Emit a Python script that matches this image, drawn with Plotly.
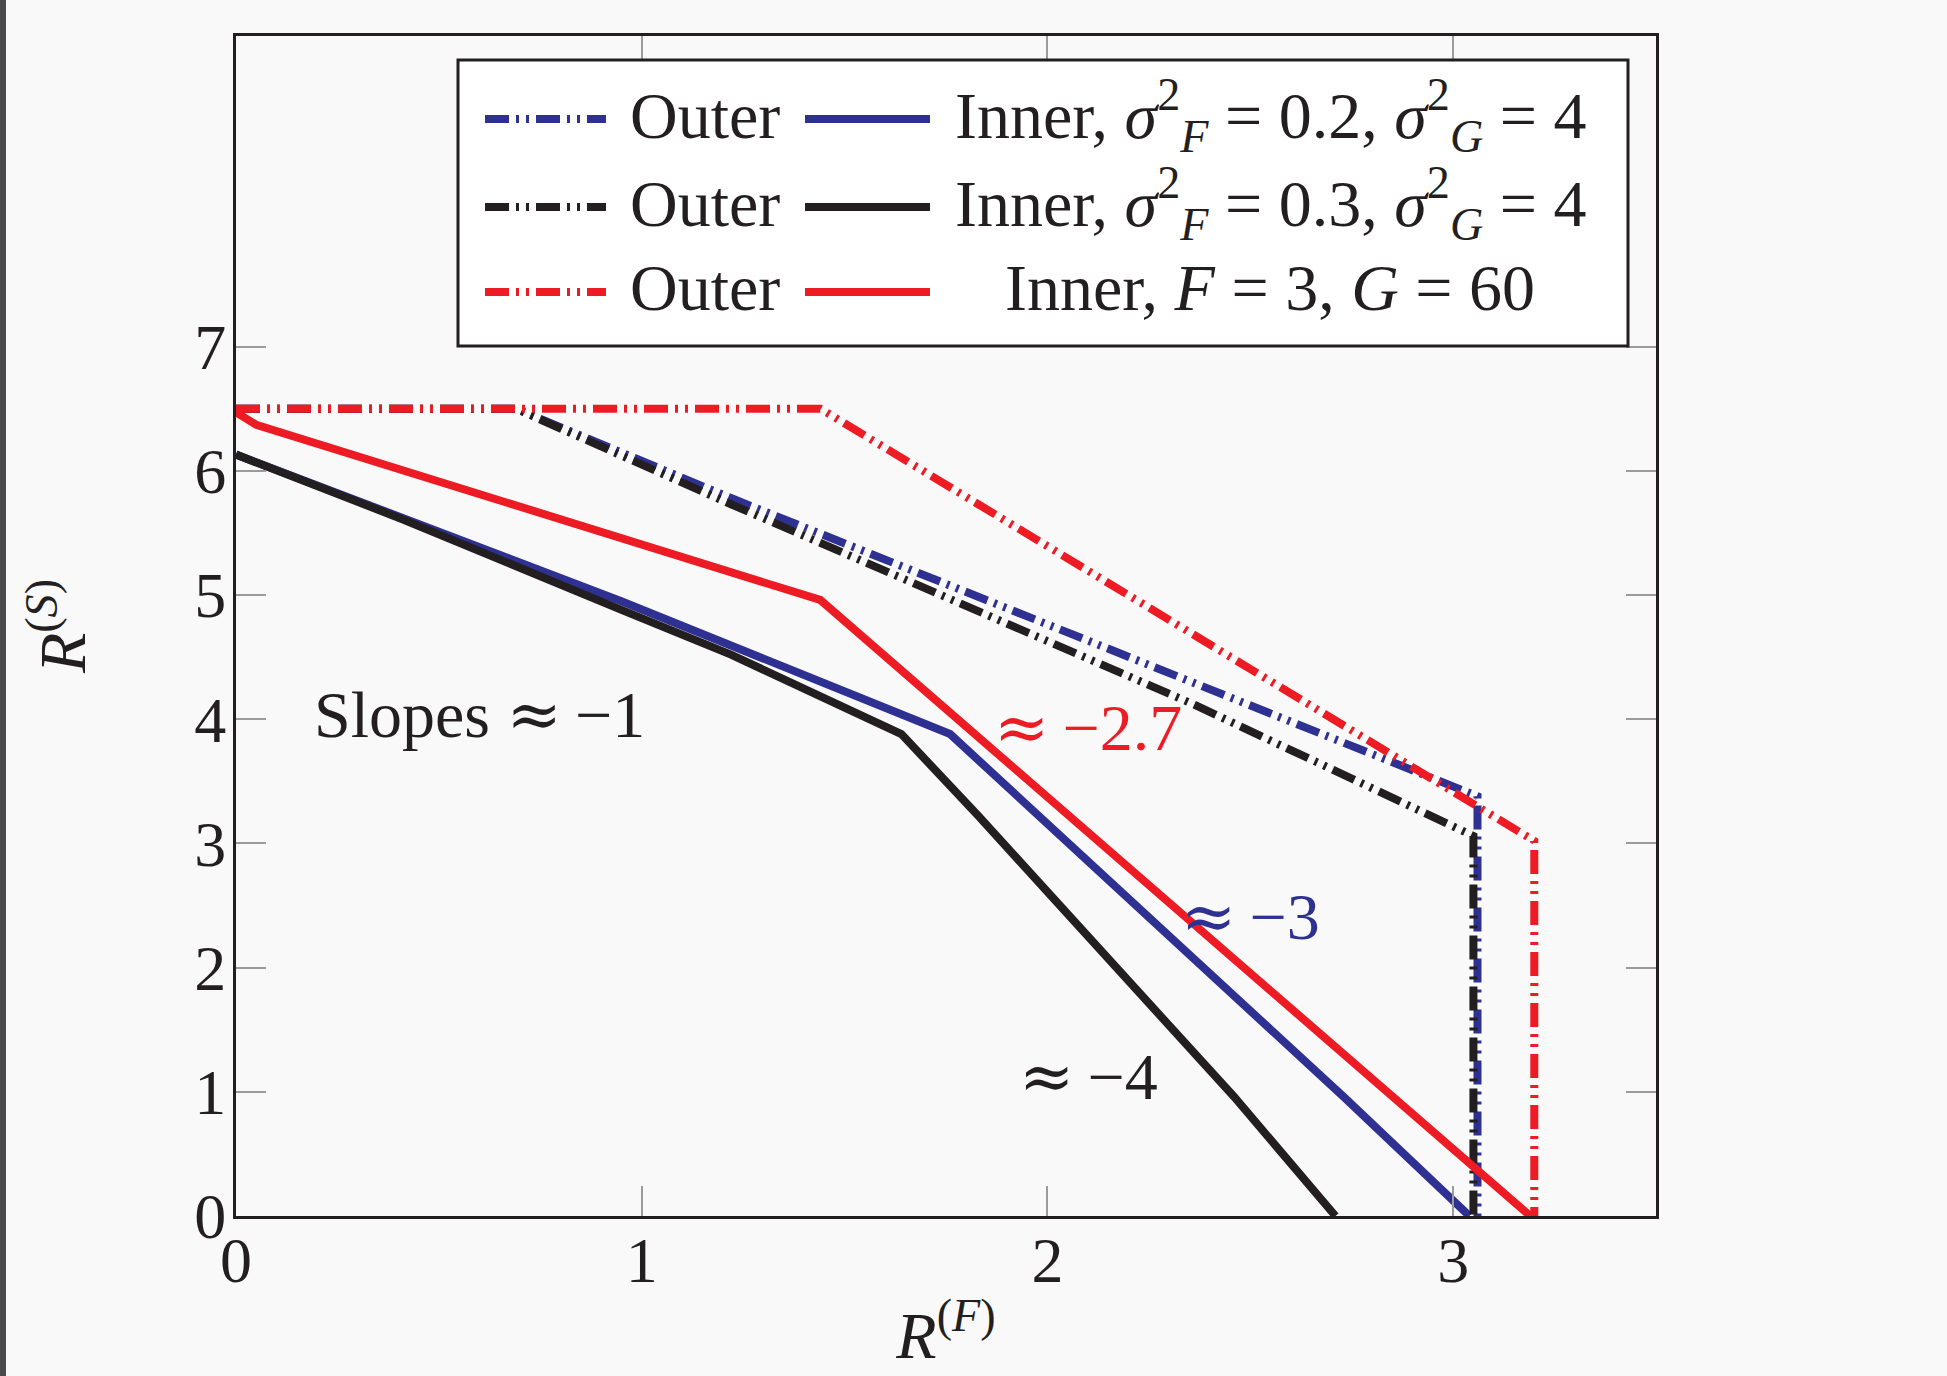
import plotly.graph_objects as go

# ---------------- data ----------------
outer_blue_x = [0, 0.69, 1.22, 2.36, 3.06, 3.06]
outer_blue_y = [6.5, 6.5, 5.78, 4.29, 3.38, 0]
inner_blue_x = [0, 0.41, 0.95, 1.76, 2.73, 3.04]
inner_blue_y = [6.13, 5.62, 4.95, 3.88, 0.96, 0]

outer_black_x = [0, 0.69, 1.22, 2.36, 3.05, 3.05]
outer_black_y = [6.5, 6.5, 5.73, 4.12, 3.06, 0]
inner_black_x = [0, 0.41, 0.95, 1.22, 1.64, 1.83, 2.46, 2.71]
inner_black_y = [6.13, 5.61, 4.88, 4.52, 3.88, 3.22, 0.96, 0]

outer_red_x = [0, 1.44, 3.2, 3.2]
outer_red_y = [6.5, 6.5, 3.02, 0]
inner_red_x = [0, 0.05, 1.44, 3.19]
inner_red_y = [6.47, 6.37, 4.96, 0]

x_ticks = [0, 1, 2, 3]
y_ticks = [0, 1, 2, 3, 4, 5, 6, 7]

outer_label = "Outer"
inner_labels = [
    "Inner, <i>σ</i><sup>2</sup><sub><i>F</i></sub> = 0.2, <i>σ</i><sup>2</sup><sub><i>G</i></sub> = 4",
    "Inner, <i>σ</i><sup>2</sup><sub><i>F</i></sub> = 0.3, <i>σ</i><sup>2</sup><sub><i>G</i></sub> = 4",
    "Inner, <i>F</i> = 3, <i>G</i> = 60",
]

slope_notes = ["Slopes ≈ −1", "≈ −2.7", "≈ −3", "≈ −4"]
slope_note_x = [0.60, 2.10, 2.50, 2.10]
slope_note_y = [4.04, 3.93, 2.41, 1.12]

# ---------------- style ----------------
BLUE, BLACK, RED = "#2E3192", "#231F20", "#ED1C24"
INK = "#231F20"
BG = "#F9F9F9"
FONT = "Liberation Serif"
LW = 8
OUTER_DASH = "24px,7px,3px,7px,3px,7px"
TXT = 66

series = [
    (outer_blue_x, outer_blue_y, inner_blue_x, inner_blue_y, BLUE),
    (outer_black_x, outer_black_y, inner_black_x, inner_black_y, BLACK),
    (outer_red_x, outer_red_y, inner_red_x, inner_red_y, RED),
]
note_colors = [INK, RED, BLUE, INK]

W, H = 1947, 1376
ML, MR, MT, MB = 236, 291, 36, 160
PW, PH = W - ML - MR, H - MT - MB


def px_x(px):
    return (px - ML) / PW


def px_y(py):
    return (H - MB - py) / PH


def math_ops(txt):
    # wider relation / operator glyphs for the approximate-slope notes
    return (txt.replace("≈", "<span style=\"font-family:'DejaVu Serif'\">≈</span>")
               .replace(" −", "\u2009−"))


fig = go.Figure()
for ox, oy, ix, iy, col in series:
    fig.add_trace(go.Scatter(x=ox, y=oy, mode="lines", showlegend=False,
                             hoverinfo="skip",
                             line=dict(color=col, width=LW, dash=OUTER_DASH)))
    fig.add_trace(go.Scatter(x=ix, y=iy, mode="lines", showlegend=False,
                             hoverinfo="skip",
                             line=dict(color=col, width=LW)))

# slope annotations inside the plot
for txt, x, y, c in zip(slope_notes, slope_note_x, slope_note_y, note_colors):
    fig.add_annotation(x=x, y=y, xref="x", yref="y", text=math_ops(txt),
                       showarrow=False, xanchor="center", yanchor="middle",
                       font=dict(family=FONT, size=TXT, color=c))

# ---------------- legend box ----------------
shapes = [
    # dark strip along the left edge of the page
    dict(type="rect", xref="paper", yref="paper",
         x0=px_x(0), x1=px_x(6), y0=px_y(H), y1=px_y(0),
         fillcolor="#4A4A4C", line=dict(width=0), layer="above"),
    dict(type="rect", xref="paper", yref="paper",
         x0=px_x(458), x1=px_x(1628), y0=px_y(346), y1=px_y(60),
         fillcolor="#FFFFFF", line=dict(color=INK, width=3), layer="above"),
]
row_y = [119, 207, 292]
for (ox, oy, ix, iy, col), ry, lab in zip(series, row_y, inner_labels):
    shapes.append(dict(type="line", xref="paper", yref="paper",
                       x0=px_x(485), x1=px_x(606), y0=px_y(ry), y1=px_y(ry),
                       line=dict(color=col, width=LW, dash=OUTER_DASH), layer="above"))
    shapes.append(dict(type="line", xref="paper", yref="paper",
                       x0=px_x(805), x1=px_x(930), y0=px_y(ry), y1=px_y(ry),
                       line=dict(color=col, width=LW), layer="above"))
    fig.add_annotation(xref="paper", yref="paper", x=px_x(628), y=px_y(ry - 4),
                       text=outer_label, showarrow=False, xanchor="left", yanchor="middle",
                       font=dict(family=FONT, size=TXT, color=INK))
    fig.add_annotation(xref="paper", yref="paper", x=px_x(1270), y=px_y(ry - 4),
                       text=lab, showarrow=False, xanchor="center", yanchor="middle",
                       font=dict(family=FONT, size=TXT, color=INK))

axis_common = dict(
    ticks="inside", ticklen=30, tickwidth=1.5, tickcolor="#9B9B9B",
    showline=True, linecolor=INK, linewidth=3, mirror="allticks",
    showgrid=False, zeroline=False,
    tickfont=dict(family=FONT, size=64, color=INK),
)

fig.update_layout(
    width=W, height=H,
    margin=dict(l=ML, r=MR, t=MT, b=MB),
    paper_bgcolor=BG, plot_bgcolor=BG,
    shapes=shapes,
    xaxis=dict(range=[0, 3.5], tickvals=x_ticks, ticktext=[str(v) for v in x_ticks],
               ticklabelstandoff=-14,
               title=dict(text="<i>R</i><sup>(<i>F</i>)</sup>", standoff=18,
                          font=dict(family=FONT, size=66, color=INK)),
               **axis_common),
    yaxis=dict(range=[0, 9.5], tickvals=y_ticks, ticktext=[str(v) for v in y_ticks],
               ticklabelstandoff=-6,
               title=dict(text="<i>R</i><sup>(<i>S</i>)</sup>", standoff=88,
                          font=dict(family=FONT, size=66, color=INK)),
               **axis_common),
)

fig.write_html("out.html")
